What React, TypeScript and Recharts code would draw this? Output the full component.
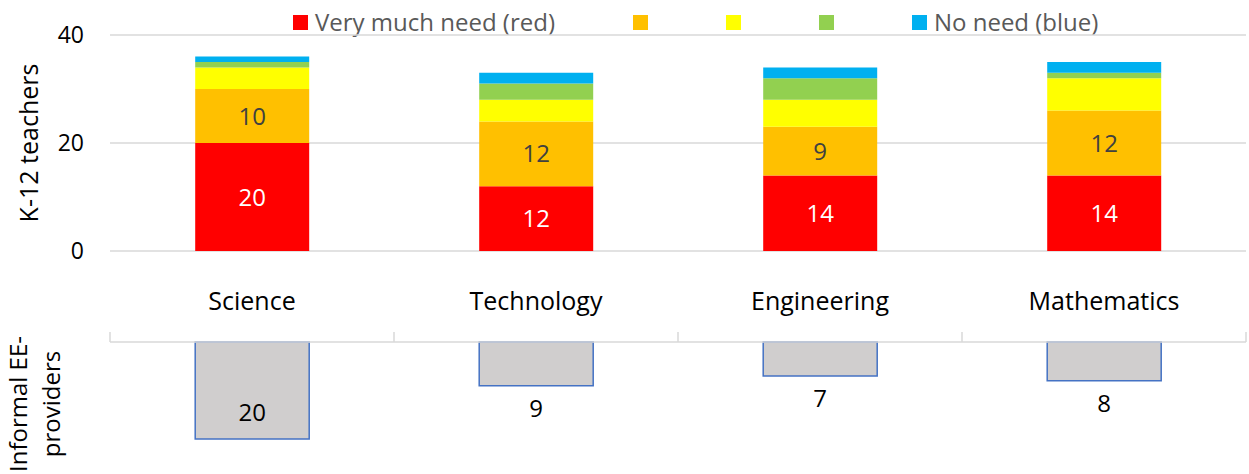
import { Bar, BarChart, CartesianGrid, LabelList, XAxis, YAxis } from "recharts";

const subjects = ["Science", "Technology", "Engineering", "Mathematics"];
const veryMuchNeed = [20, 12, 14, 14];
const need2 = [10, 12, 9, 12];
const need3 = [4, 4, 5, 6];
const need4 = [1, 3, 4, 1];
const noNeed = [1, 2, 2, 2];
const providers = [20, 9, 7, 8];
const teacherTicks = [0, 20, 40];

const FONT = "'Open Sans', sans-serif";

const series = [
  { key: "veryMuch", name: "Very much need (red)", color: "#ff0000", values: veryMuchNeed, label: "#ffffff" },
  { key: "need2", name: "", color: "#ffc000", values: need2, label: "#404040" },
  { key: "need3", name: "", color: "#ffff00", values: need3, label: "" },
  { key: "need4", name: "", color: "#92d050", values: need4, label: "" },
  { key: "noNeed", name: "No need (blue)", color: "#00b0f0", values: noNeed, label: "" },
];

const teacherRows = subjects.map((subject, i) => {
  const row: Record<string, string | number> = { subject };
  series.forEach((s) => (row[s.key] = s.values[i]));
  return row;
});

const providerRows = subjects.map((subject, i) => ({ subject, providers: providers[i] }));

function SubjectTick({ x, y, payload }: any) {
  return (
    <text x={x} y={y + 50} dy="0.35em" textAnchor="middle" fontSize={25} fill="#000">
      {payload.value}
    </text>
  );
}

// tick marks sit between the categories, not under them
function BoundaryTick(props: any) {
  const { x, y, index, visibleTicksCount, width, payload } = props;
  const band = width ? width / visibleTicksCount : (payload?.offset ?? 142) * 2;
  const left = x - band / 2;
  return (
    <g>
      <line x1={left} x2={left} y1={y - 10} y2={y} stroke="#d9d9d9" strokeWidth={1.5} />
      {index === visibleTicksCount - 1 && (
        <line x1={left + band} x2={left + band} y1={y - 10} y2={y} stroke="#d9d9d9" strokeWidth={1.5} />
      )}
    </g>
  );
}

function ProviderLabel({ x, y, width, height, value }: any) {
  const bottom = Math.max(y, y + height);
  const inside = bottom + 36 > 154;
  return (
    <text
      x={x + width / 2}
      y={inside ? bottom - 26 : bottom + 23}
      dy="0.35em"
      textAnchor="middle"
      fontSize={24}
      fill="#000"
    >
      {value}
    </text>
  );
}

function Legend() {
  return (
    <div
      style={{
        position: "absolute",
        top: 12,
        left: 293,
        display: "flex",
        alignItems: "center",
        gap: 78,
        fontSize: 24,
        color: "#595959",
        lineHeight: "20px",
        whiteSpace: "nowrap",
      }}
    >
      {series.map((s) => (
        <div key={s.key} style={{ display: "flex", alignItems: "center" }}>
          <span style={{ width: 15, height: 15, background: s.color, display: "inline-block" }} />
          {s.name && <span style={{ marginLeft: 7 }}>{s.name}</span>}
        </div>
      ))}
    </div>
  );
}

export default function App() {
  return (
    <div style={{ position: "relative", width: 1249, height: 474, fontFamily: FONT, background: "#fff", overflow: "hidden" }}>
      <style>{"body{margin:0}"}</style>
      <Legend />
      <div style={{ position: "absolute", top: 0, left: 0 }}>
        <BarChart
          width={1249}
          height={320}
          data={teacherRows}
          margin={{ top: 35, right: 3, left: 0, bottom: 0 }}
          barCategoryGap="30%"
          style={{ fontFamily: FONT }}
        >
          <CartesianGrid vertical={false} stroke="#d9d9d9" strokeWidth={1.5} />
          <XAxis
            dataKey="subject"
            axisLine={false}
            tickLine={false}
            tickSize={0}
            tickMargin={0}
            height={69}
            tick={<SubjectTick />}
            interval={0}
          />
          <YAxis
            domain={[0, 40]}
            ticks={teacherTicks}
            axisLine={false}
            tickLine={false}
            tickSize={0}
            tickMargin={26}
            width={110}
            tick={{ fontSize: 23, fill: "#000" }}
            label={{
              value: "K-12 teachers",
              angle: -90,
              position: "insideLeft",
              offset: 0,
              style: { fontSize: 25, fill: "#000", textAnchor: "middle" },
              dx: 29,
            }}
          />
          {series.map((s) => (
            <Bar key={s.key} dataKey={s.key} name={s.name} stackId="t" fill={s.color} isAnimationActive={false}>
              {s.label && (
                <LabelList dataKey={s.key} position="center" fill={s.label} fontSize={24} />
              )}
            </Bar>
          ))}
        </BarChart>
      </div>
      <div style={{ position: "absolute", top: 320, left: 0 }}>
        <BarChart
          width={1249}
          height={154}
          data={providerRows}
          margin={{ top: 12, right: 3, left: 0, bottom: 35 }}
          barCategoryGap="30%"
          style={{ fontFamily: FONT }}
        >
          <XAxis
            dataKey="subject"
            orientation="top"
            height={10}
            axisLine={{ stroke: "#d9d9d9", strokeWidth: 1.5 }}
            tickLine={false}
            tickSize={0}
            tickMargin={0}
            tick={<BoundaryTick />}
            interval={0}
          />
          <YAxis
            domain={[0, 20]}
            reversed
            axisLine={false}
            tickLine={false}
            tick={false}
            width={110}
            label={{
              content: () => (
                <g fontSize={24} fill="#000" textAnchor="middle">
                  <text transform="translate(27,84) rotate(-90)">Informal EE-</text>
                  <text transform="translate(60,84) rotate(-90)">providers</text>
                </g>
              ),
            }}
          />
          <Bar
            dataKey="providers"
            fill="#d0cece"
            stroke="#4472c4"
            strokeWidth={1.5}
            isAnimationActive={false}
          >
            <LabelList dataKey="providers" content={<ProviderLabel />} />
          </Bar>
        </BarChart>
      </div>
    </div>
  );
}
